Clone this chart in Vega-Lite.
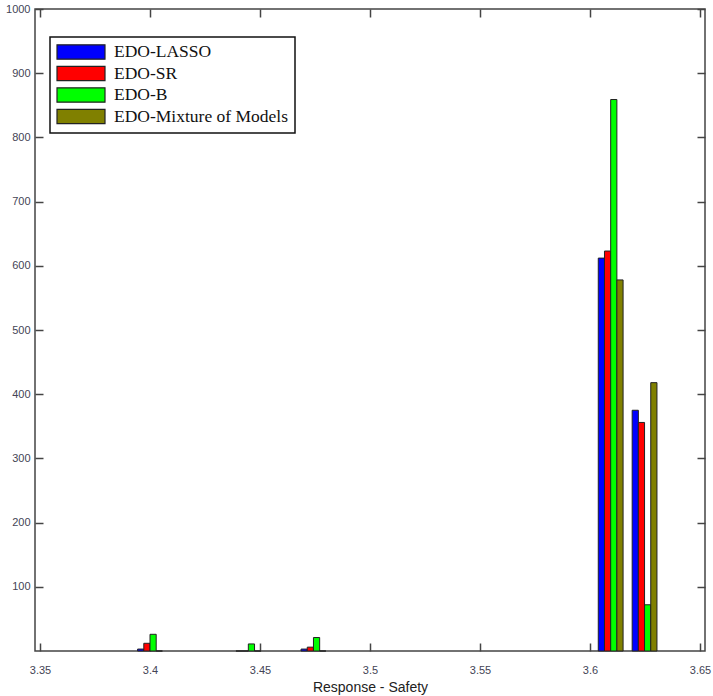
{
  "$schema": "https://vega.github.io/schema/vega-lite/v6.json",
  "width": 670,
  "height": 642,
  "autosize": "none",
  "padding": {"left": 35, "top": 9, "right": 8, "bottom": 45},
  "background": "white",
  "config": {
    "view": {"stroke": "#444", "strokeWidth": 1.5},
    "axis": {"labelFont": "Liberation Sans", "labelFontSize": 11, "labelColor": "#445", "titleFont": "Liberation Sans", "titleFontSize": 14, "titleFontWeight": "normal", "titleColor": "#222", "grid": false, "domain": false, "tickColor": "#444", "tickWidth": 1.5, "tickSize": 8, "offset": -8, "labelFlush": false}
  },
  "data": {
    "values": [
      {"x": 3.4, "model": "EDO-LASSO", "count": 3},
      {"x": 3.4, "model": "EDO-SR", "count": 12},
      {"x": 3.4, "model": "EDO-B", "count": 26},
      {"x": 3.4, "model": "EDO-Mixture of Models", "count": 0},
      {"x": 3.4447, "model": "EDO-LASSO", "count": 0},
      {"x": 3.4447, "model": "EDO-SR", "count": 0},
      {"x": 3.4447, "model": "EDO-B", "count": 11},
      {"x": 3.4447, "model": "EDO-Mixture of Models", "count": 0},
      {"x": 3.4743, "model": "EDO-LASSO", "count": 3},
      {"x": 3.4743, "model": "EDO-SR", "count": 6},
      {"x": 3.4743, "model": "EDO-B", "count": 21},
      {"x": 3.4743, "model": "EDO-Mixture of Models", "count": 0},
      {"x": 3.6094, "model": "EDO-LASSO", "count": 612},
      {"x": 3.6094, "model": "EDO-SR", "count": 623},
      {"x": 3.6094, "model": "EDO-B", "count": 859},
      {"x": 3.6094, "model": "EDO-Mixture of Models", "count": 578},
      {"x": 3.6248, "model": "EDO-LASSO", "count": 375},
      {"x": 3.6248, "model": "EDO-SR", "count": 356},
      {"x": 3.6248, "model": "EDO-B", "count": 72},
      {"x": 3.6248, "model": "EDO-Mixture of Models", "count": 418}
    ]
  },
  "encoding": {
    "x": {"field": "x", "type": "quantitative", "scale": {"domain": [3.35, 3.65], "nice": false, "zero": false}},
    "y": {"field": "count", "type": "quantitative", "scale": {"domain": [0, 1000], "nice": false}},
    "color": {
      "field": "model", "type": "nominal",
      "scale": {"domain": ["EDO-LASSO", "EDO-SR", "EDO-B", "EDO-Mixture of Models"], "range": ["#0000ff", "#ff0000", "#00ff00", "#808000"]},
      "legend": {
        "title": null, "orient": "none", "legendX": 15, "legendY": 28,
        "fillColor": "white", "strokeColor": "#111", "padding": 6,
        "symbolType": "M-1,-0.9H5V0.9H-1Z", "symbolSize": 256, "symbolStrokeColor": "#222", "symbolStrokeWidth": 1.2,
        "labelFont": "Liberation Serif", "labelFontSize": 17.5, "labelColor": "#111", "labelOffset": 40, "rowPadding": 1.5, "labelLimit": 400,
        "encode": {"legend": {"update": {"strokeWidth": {"value": 1.5}}}}
      }
    }
  },
  "resolve": {"axis": {"x": "independent", "y": "independent"}},
  "layer": [
    {
      "transform": [{"filter": "datum.model === 'EDO-LASSO'"}],
      "mark": {"type": "bar", "width": 6.2, "xOffset": -9.3, "stroke": "#222", "strokeWidth": 1},
      "encoding": {
        "x": {"field": "x", "type": "quantitative", "title": "Response - Safety", "axis": {"orient": "bottom", "values": [3.35, 3.4, 3.45, 3.5, 3.55, 3.6, 3.65], "format": "~g", "labelPadding": 13, "titlePadding": 5}},
        "y": {"field": "count", "type": "quantitative", "title": null, "axis": {"orient": "left", "values": [100, 200, 300, 400, 500, 600, 700, 800, 900, 1000], "format": "d", "labelPadding": 5}}
      }
    },
    {
      "transform": [{"filter": "datum.model === 'EDO-SR'"}],
      "mark": {"type": "bar", "width": 6.2, "xOffset": -3.1, "stroke": "#222", "strokeWidth": 1},
      "encoding": {
        "x": {"field": "x", "type": "quantitative", "title": null, "axis": {"orient": "top", "values": [3.35, 3.4, 3.45, 3.5, 3.55, 3.6, 3.65], "labels": false}},
        "y": {"field": "count", "type": "quantitative", "title": null, "axis": {"orient": "right", "values": [100, 200, 300, 400, 500, 600, 700, 800, 900, 1000], "labels": false}}
      }
    },
    {
      "transform": [{"filter": "datum.model === 'EDO-B'"}],
      "mark": {"type": "bar", "width": 6.2, "xOffset": 3.1, "stroke": "#222", "strokeWidth": 1},
      "encoding": {
        "x": {"field": "x", "type": "quantitative", "axis": null},
        "y": {"field": "count", "type": "quantitative", "axis": null}
      }
    },
    {
      "transform": [{"filter": "datum.model === 'EDO-Mixture of Models'"}],
      "mark": {"type": "bar", "width": 6.2, "xOffset": 9.3, "stroke": "#222", "strokeWidth": 1},
      "encoding": {
        "x": {"field": "x", "type": "quantitative", "axis": null},
        "y": {"field": "count", "type": "quantitative", "axis": null}
      }
    }
  ]
}
